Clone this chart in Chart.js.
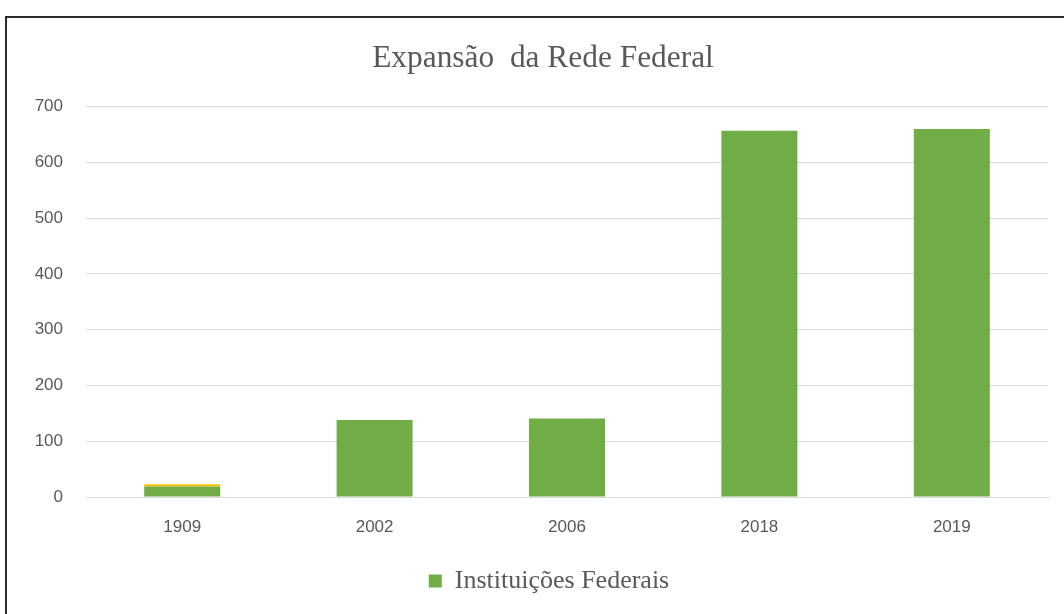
<!DOCTYPE html>
<html>
<head>
<meta charset="utf-8">
<script src="https://cdn.jsdelivr.net/npm/chart.js@4.4.1/dist/chart.umd.min.js"></script>
<style>
  html, body { margin: 0; padding: 0; background: #fff; }
  #wrap { position: relative; width: 1064px; height: 614px; overflow: hidden; }
  #frame { position: absolute; left: 5px; top: 16px; width: 1100px; height: 700px;
           border-top: 2px solid #2b2b2b; border-left: 2px solid #2b2b2b; box-sizing: border-box; pointer-events: none; }
  canvas { position: absolute; left: 0; top: 0; }
</style>
</head>
<body>
<div id="wrap">
  <canvas id="c" width="1064" height="614"></canvas>
  <div id="frame"></div>
</div>
<script>
const categories = ['1909', '2002', '2006', '2018', '2019'];
const instituicoes = [19, 138, 141, 657, 660];
const topSegment = [4, 0, 0, 0, 0];
const yTicks = [0, 100, 200, 300, 400, 500, 600, 700];
const titleText = 'Expansão  da Rede Federal';
const seriesName = 'Instituições Federais';

const shiftBlocks = {
  id: 'shiftBlocks',
  afterLayout(chart) {
    if (chart.titleBlock) { chart.titleBlock.left += 9; chart.titleBlock.right += 9; }
    if (chart.legend) { chart.legend.left += 15; chart.legend.right += 15; }
  }
};

new Chart(document.getElementById('c'), {
  type: 'bar',
  data: {
    labels: categories,
    datasets: [
      { label: seriesName, data: instituicoes, backgroundColor: '#70AD47',
        categoryPercentage: 1, barPercentage: 0.395, stack: 's' },
      { label: '', data: topSegment, backgroundColor: '#FFC000',
        categoryPercentage: 1, barPercentage: 0.395, stack: 's' }
    ]
  },
  plugins: [shiftBlocks],
  options: {
    responsive: false,
    animation: false,
    layout: { padding: { left: 20, right: 16, top: 28, bottom: 10 } },
    plugins: {
      title: { display: true, text: titleText, color: '#595959',
        font: { family: '"Liberation Serif", "Times New Roman", serif', size: 31.4, weight: 'normal' },
        padding: { top: 12, bottom: 29 } },
      legend: { position: 'bottom',
        labels: { color: '#595959', boxWidth: 13, boxHeight: 13, padding: 10,
          font: { family: '"Liberation Serif", "Times New Roman", serif', size: 26 },
          filter: (item) => item.text !== '' } },
      tooltip: { enabled: false }
    },
    scales: {
      x: { stacked: true,
        grid: { display: false, drawTicks: false },
        border: { display: true, color: '#d9d9d9', width: 1 },
        ticks: { color: '#595959', padding: 20,
          font: { family: '"Liberation Sans", Arial, sans-serif', size: 17 } },
        afterFit: (s) => { s.height = 61; } },
      y: { stacked: true, min: 0, max: 700,
        afterBuildTicks: (s) => { s.ticks = yTicks.map(v => ({ value: v })); },
        grid: { color: '#d9d9d9', drawTicks: false },
        border: { display: false },
        ticks: { color: '#595959', padding: 23,
          font: { family: '"Liberation Sans", Arial, sans-serif', size: 17 } },
        afterFit: (s) => { s.width = 66; } }
    }
  }
});
</script>
</body>
</html>
